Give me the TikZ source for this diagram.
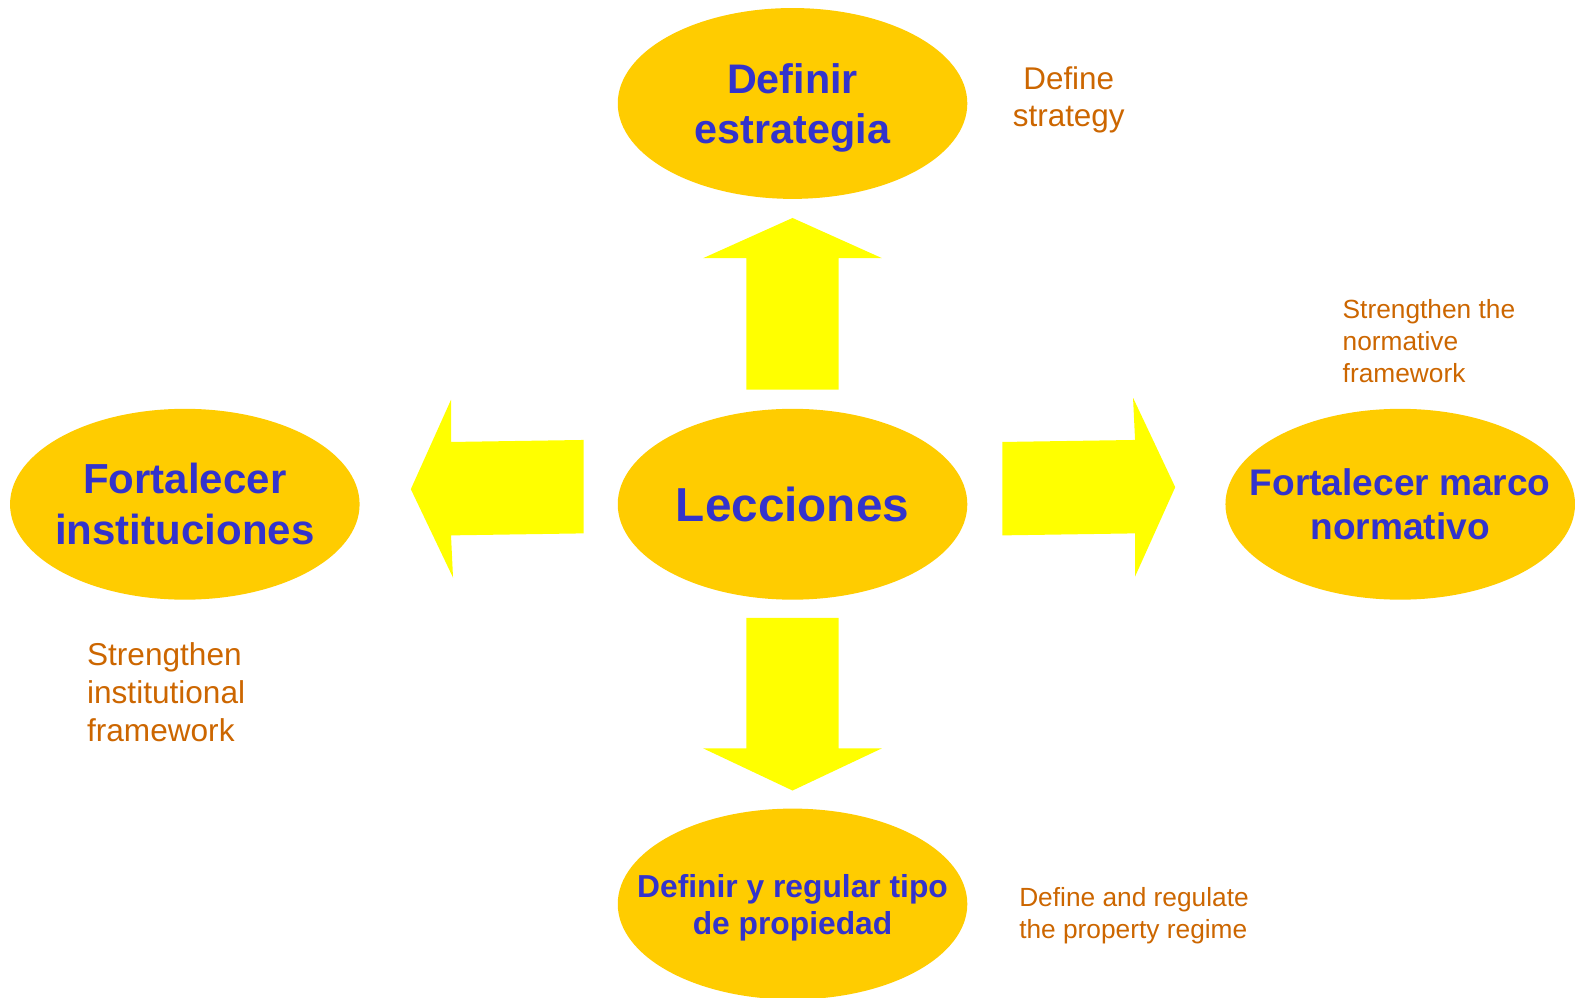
\documentclass[tikz,border=0pt]{standalone}
\usepackage{fontspec}
\setmainfont{Liberation Sans}
\usepackage{tikz}
\usetikzlibrary{shapes}

\definecolor{ovalfill}{HTML}{FFCC00}
\definecolor{arrowfill}{HTML}{FFFF00}
\definecolor{ovaltext}{HTML}{3333CC}
\definecolor{glosstext}{HTML}{CC6600}

\begin{document}
\begin{tikzpicture}[scale=1.0000]
	\tikzstyle{every node}=[scale=1.0000]
	\tikzstyle{oval}=[ellipse, fill=ovalfill, minimum width=3.4800cm, minimum height=1.9000cm, inner sep=0pt]
	\tikzstyle{ovaltitle}=[inner sep=0pt, align=center, text=ovaltext]
	\tikzstyle{gloss}=[inner sep=0pt, text=glosstext]
	\tikzstyle{bigarrow}=[fill=arrowfill, draw=none]

	%%bounding box
	\useasboundingbox (0.0000,0.0000) rectangle (15.6800,-9.9300);

	%%ovals
	\node [oval] (strat) at (7.8900,-1.0300) {};
	\node [oval] (lecc) at (7.8900,-5.0200) {};
	\node [oval] (inst) at (1.8400,-5.0200) {};
	\node [oval] (marco) at (13.9400,-5.0200) {};
	\node [oval] (prop) at (7.8900,-9.0000) {};

	%%oval titles
	\node [ovaltitle, text depth=0pt, font=\fontsize{11.7}{14.2}\selectfont\bfseries] (strattitle) at (strat) {Definir\\estrategia};
	\node [ovaltitle, font=\fontsize{13.5}{16}\selectfont\bfseries] (lecctitle) at (lecc) {Lecciones};
	\node [ovaltitle, font=\fontsize{11.9}{14.5}\selectfont\bfseries] (insttitle) at (inst) {Fortalecer\\instituciones};
	\node [ovaltitle, font=\fontsize{10.5}{12.2}\selectfont\bfseries] (marcotitle) at (marco) {Fortalecer marco\\normativo};
	\node [ovaltitle, text depth=0pt, font=\fontsize{9.0}{10.5}\selectfont\bfseries] (proptitle) at (prop) {Definir y regular tipo\\de propiedad};

	%%arrows
	\fill [bigarrow]  (7.4300,-3.8800) -- (7.4300,-2.5700) -- (7.0000,-2.5700) -- (7.8900,-2.1700) -- (8.7800,-2.5700) -- (8.3500,-2.5700) -- (8.3500,-3.8800) -- cycle;
	\fill [bigarrow]  (7.4300,-6.1500) -- (7.4300,-7.4500) -- (7.0000,-7.4500) -- (7.8900,-7.8700) -- (8.7800,-7.4500) -- (8.3500,-7.4500) -- (8.3500,-6.1500) -- cycle;
	\fill [bigarrow]  (5.8100,-4.3800) -- (4.4900,-4.4000) -- (4.4900,-3.9800) -- (4.0900,-4.8700) -- (4.5100,-5.7500) -- (4.4900,-5.3300) -- (5.8100,-5.3100) -- cycle;
	\fill [bigarrow]  (9.9800,-4.4000) -- (11.3000,-4.3800) -- (11.2800,-3.9600) -- (11.7000,-4.8500) -- (11.3000,-5.7400) -- (11.3000,-5.3100) -- (9.9800,-5.3300) -- cycle;

	%%glosses
	\node [gloss, anchor=north, align=center, font=\fontsize{8.9}{10.5}\selectfont] (stratgloss) at (10.6400,-0.6600) {Define\\strategy};
	\node [gloss, anchor=north west, align=left, font=\fontsize{7.45}{9.1}\selectfont] (marcogloss) at (13.3600,-2.9700) {Strengthen the\\normative\\framework};
	\node [gloss, anchor=north west, align=left, font=\fontsize{8.95}{10.8}\selectfont] (instgloss) at (0.8600,-6.3900) {Strengthen\\institutional\\framework};
	\node [gloss, anchor=north west, align=left, font=\fontsize{7.45}{9.1}\selectfont] (propgloss) at (10.1400,-8.8300) {Define and regulate\\the property regime};

\end{tikzpicture}
\end{document}
